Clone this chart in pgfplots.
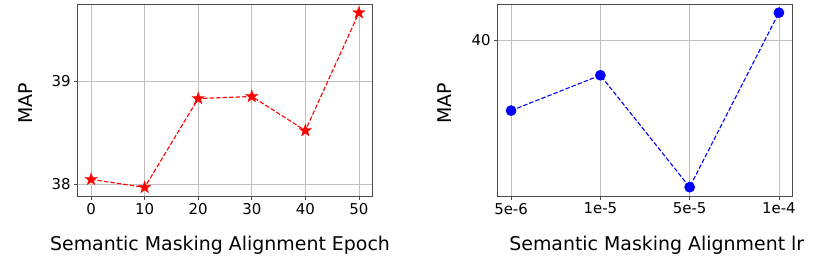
\documentclass[border=0pt]{standalone}
\usepackage{fontspec}
\setmainfont{DejaVu Sans}
\usepackage{pgfplots}
\pgfplotsset{compat=1.18}
\definecolor{mred}{HTML}{FF0000}
\definecolor{mblue}{HTML}{0000FF}
\pgfdeclareplotmark{fstar}{%
 \pgfpathmoveto{\pgfpointpolar{90}{\pgfplotmarksize}}%
 \pgfpathlineto{\pgfpointpolar{126}{0.4\pgfplotmarksize}}%
 \pgfpathlineto{\pgfpointpolar{162}{\pgfplotmarksize}}%
 \pgfpathlineto{\pgfpointpolar{198}{0.4\pgfplotmarksize}}%
 \pgfpathlineto{\pgfpointpolar{234}{\pgfplotmarksize}}%
 \pgfpathlineto{\pgfpointpolar{270}{0.4\pgfplotmarksize}}%
 \pgfpathlineto{\pgfpointpolar{306}{\pgfplotmarksize}}%
 \pgfpathlineto{\pgfpointpolar{342}{0.4\pgfplotmarksize}}%
 \pgfpathlineto{\pgfpointpolar{18}{\pgfplotmarksize}}%
 \pgfpathlineto{\pgfpointpolar{54}{0.4\pgfplotmarksize}}%
 \pgfpathclose\pgfusepathqfillstroke}
\pgfplotsset{myax/.style={
 scale only axis, width=294.6bp, height=192bp, anchor=south west,
 grid=major, major grid style={black!25, line width=0.6bp},
 axis line style={black!70, line width=0.8bp},
 tick style={black!70, line width=0.8bp}, tick align=outside, major tick length=3.5bp,
 tick pos=left,
 ticklabel style={font=\fontsize{15}{18}\selectfont},
 /pgf/number format/assume math mode=true,
 label style={font=\fontsize{19}{22}\selectfont},
}}
\begin{document}
\begin{tikzpicture}[x=1bp,y=1bp]
\path (0,0) rectangle (830,266);
\begin{axis}[myax, at={(77.7bp,70bp)},
 xmin=-2.5, xmax=52.5, ymin=37.887, ymax=39.745,
 xtick={0,10,20,30,40,50}, ytick={38,39},
 xlabel={Semantic Masking Alignment Epoch}, ylabel={MAP},
 xlabel style={at={(axis description cs:0.483,-0.255)}, anchor=center},
 ylabel style={at={(axis description cs:-0.1765,0.484)}, anchor=center}]
\addplot[mred, dash pattern=on 4.5bp off 2bp, line width=1.1bp, mark=fstar, mark size=6.5bp,
 mark options={solid, fill=mred, line width=0.3bp}] coordinates {
(0,38.048) (10,37.97) (20,38.83) (30,38.85) (40,38.52) (50,39.66)};
\end{axis}
\begin{axis}[myax, at={(497.7bp,70bp)},
 xmin=-0.15, xmax=3.15, ymin=38.94, ymax=40.244,
 xtick={0,1,2,3}, xticklabels={5e-6,1e-5,5e-5,1e-4}, ytick={40},
 xlabel={Semantic Masking Alignment lr}, ylabel={MAP},
 xlabel style={at={(axis description cs:0.54,-0.255)}, anchor=center},
 ylabel style={at={(axis description cs:-0.18,0.484)}, anchor=center}]
\addplot[mblue, dash pattern=on 4.5bp off 2bp, line width=1.1bp, mark=*, mark size=4.8bp,
 mark options={solid, fill=mblue}] coordinates {
(0,39.52) (1,39.76) (2,39.0) (3,40.185)};
\end{axis}
\end{tikzpicture}
\end{document}
